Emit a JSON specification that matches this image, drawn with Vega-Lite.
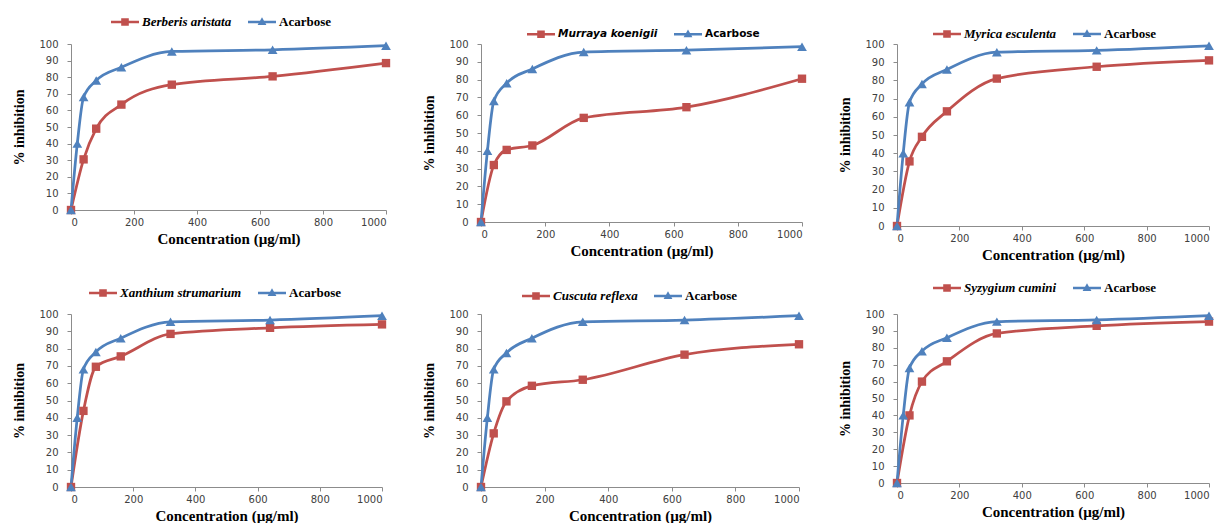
{
  "$schema": "https://vega.github.io/schema/vega-lite/v6.json",
  "background": "white",
  "padding": {"left": 12, "top": 12, "right": 0, "bottom": 0},
  "datasets": {
    "p1": [
      {"series": "Berberis aristata", "conc": 0, "inhibition": 0},
      {"series": "Berberis aristata", "conc": 40, "inhibition": 30.5},
      {"series": "Berberis aristata", "conc": 80, "inhibition": 49},
      {"series": "Berberis aristata", "conc": 160, "inhibition": 63.5},
      {"series": "Berberis aristata", "conc": 320, "inhibition": 75.5},
      {"series": "Berberis aristata", "conc": 640, "inhibition": 80.5},
      {"series": "Berberis aristata", "conc": 1000, "inhibition": 88.5},
      {"series": "Acarbose", "conc": 0, "inhibition": 0},
      {"series": "Acarbose", "conc": 20, "inhibition": 40},
      {"series": "Acarbose", "conc": 40, "inhibition": 68},
      {"series": "Acarbose", "conc": 80, "inhibition": 78},
      {"series": "Acarbose", "conc": 160, "inhibition": 86},
      {"series": "Acarbose", "conc": 320, "inhibition": 95.5},
      {"series": "Acarbose", "conc": 640, "inhibition": 96.5},
      {"series": "Acarbose", "conc": 1000, "inhibition": 99}
    ],
    "p2": [
      {"series": "Murraya koenigii", "conc": 0, "inhibition": 0},
      {"series": "Murraya koenigii", "conc": 40, "inhibition": 32},
      {"series": "Murraya koenigii", "conc": 80, "inhibition": 40.5},
      {"series": "Murraya koenigii", "conc": 160, "inhibition": 43},
      {"series": "Murraya koenigii", "conc": 320, "inhibition": 58.5},
      {"series": "Murraya koenigii", "conc": 640, "inhibition": 64.5},
      {"series": "Murraya koenigii", "conc": 1000, "inhibition": 80.5},
      {"series": "Acarbose", "conc": 0, "inhibition": 0},
      {"series": "Acarbose", "conc": 20, "inhibition": 40},
      {"series": "Acarbose", "conc": 40, "inhibition": 68},
      {"series": "Acarbose", "conc": 80, "inhibition": 78},
      {"series": "Acarbose", "conc": 160, "inhibition": 86},
      {"series": "Acarbose", "conc": 320, "inhibition": 95.5},
      {"series": "Acarbose", "conc": 640, "inhibition": 96.5},
      {"series": "Acarbose", "conc": 1000, "inhibition": 98.5}
    ],
    "p3": [
      {"series": "Myrica esculenta", "conc": 0, "inhibition": 0},
      {"series": "Myrica esculenta", "conc": 40, "inhibition": 35.5},
      {"series": "Myrica esculenta", "conc": 80, "inhibition": 49},
      {"series": "Myrica esculenta", "conc": 160, "inhibition": 63},
      {"series": "Myrica esculenta", "conc": 320, "inhibition": 81},
      {"series": "Myrica esculenta", "conc": 640, "inhibition": 87.5},
      {"series": "Myrica esculenta", "conc": 1000, "inhibition": 91},
      {"series": "Acarbose", "conc": 0, "inhibition": 0},
      {"series": "Acarbose", "conc": 20, "inhibition": 40},
      {"series": "Acarbose", "conc": 40, "inhibition": 68},
      {"series": "Acarbose", "conc": 80, "inhibition": 78},
      {"series": "Acarbose", "conc": 160, "inhibition": 86},
      {"series": "Acarbose", "conc": 320, "inhibition": 95.5},
      {"series": "Acarbose", "conc": 640, "inhibition": 96.5},
      {"series": "Acarbose", "conc": 1000, "inhibition": 99}
    ],
    "p4": [
      {"series": "Xanthium strumarium", "conc": 0, "inhibition": 0},
      {"series": "Xanthium strumarium", "conc": 40, "inhibition": 44},
      {"series": "Xanthium strumarium", "conc": 80, "inhibition": 69.5},
      {"series": "Xanthium strumarium", "conc": 160, "inhibition": 75.5},
      {"series": "Xanthium strumarium", "conc": 320, "inhibition": 88.5},
      {"series": "Xanthium strumarium", "conc": 640, "inhibition": 92},
      {"series": "Xanthium strumarium", "conc": 1000, "inhibition": 94},
      {"series": "Acarbose", "conc": 0, "inhibition": 0},
      {"series": "Acarbose", "conc": 20, "inhibition": 40},
      {"series": "Acarbose", "conc": 40, "inhibition": 68},
      {"series": "Acarbose", "conc": 80, "inhibition": 78},
      {"series": "Acarbose", "conc": 160, "inhibition": 86},
      {"series": "Acarbose", "conc": 320, "inhibition": 95.5},
      {"series": "Acarbose", "conc": 640, "inhibition": 96.5},
      {"series": "Acarbose", "conc": 1000, "inhibition": 99}
    ],
    "p5": [
      {"series": "Cuscuta reflexa", "conc": 0, "inhibition": 0},
      {"series": "Cuscuta reflexa", "conc": 40, "inhibition": 31},
      {"series": "Cuscuta reflexa", "conc": 80, "inhibition": 49.5},
      {"series": "Cuscuta reflexa", "conc": 160, "inhibition": 58.5},
      {"series": "Cuscuta reflexa", "conc": 320, "inhibition": 62},
      {"series": "Cuscuta reflexa", "conc": 640, "inhibition": 76.5},
      {"series": "Cuscuta reflexa", "conc": 1000, "inhibition": 82.5},
      {"series": "Acarbose", "conc": 0, "inhibition": 0},
      {"series": "Acarbose", "conc": 20, "inhibition": 40},
      {"series": "Acarbose", "conc": 40, "inhibition": 68},
      {"series": "Acarbose", "conc": 80, "inhibition": 77.5},
      {"series": "Acarbose", "conc": 160, "inhibition": 86},
      {"series": "Acarbose", "conc": 320, "inhibition": 95.5},
      {"series": "Acarbose", "conc": 640, "inhibition": 96.5},
      {"series": "Acarbose", "conc": 1000, "inhibition": 99}
    ],
    "p6": [
      {"series": "Syzygium cumini", "conc": 0, "inhibition": 0},
      {"series": "Syzygium cumini", "conc": 40, "inhibition": 40},
      {"series": "Syzygium cumini", "conc": 80, "inhibition": 60},
      {"series": "Syzygium cumini", "conc": 160, "inhibition": 72},
      {"series": "Syzygium cumini", "conc": 320, "inhibition": 88.5},
      {"series": "Syzygium cumini", "conc": 640, "inhibition": 93},
      {"series": "Syzygium cumini", "conc": 1000, "inhibition": 95.5},
      {"series": "Acarbose", "conc": 0, "inhibition": 0},
      {"series": "Acarbose", "conc": 20, "inhibition": 40},
      {"series": "Acarbose", "conc": 40, "inhibition": 68},
      {"series": "Acarbose", "conc": 80, "inhibition": 78},
      {"series": "Acarbose", "conc": 160, "inhibition": 86},
      {"series": "Acarbose", "conc": 320, "inhibition": 95.5},
      {"series": "Acarbose", "conc": 640, "inhibition": 96.5},
      {"series": "Acarbose", "conc": 1000, "inhibition": 99}
    ]
  },
  "columns": 3,
  "align": "none",
  "bounds": "flush",
  "spacing": {"row": 88, "column": 95},
  "resolve": {
    "scale": {"color": "independent", "x": "independent", "y": "independent"},
    "legend": {"color": "independent"},
    "axis": {"x": "independent", "y": "independent"}
  },
  "concat": [
    {
      "width": 315, "height": 166,
      "data": {"name": "p1"},
      "encoding": {
        "x": {"field": "conc", "type": "quantitative", "scale": {"domain": [0, 1000], "nice": false}, "axis": {"values": [0, 200, 400, 600, 800, 1000], "format": "d", "title": "Concentration (µg/ml)"}},
        "y": {"field": "inhibition", "type": "quantitative", "scale": {"domain": [0, 100], "nice": false}, "axis": {"values": [0, 10, 20, 30, 40, 50, 60, 70, 80, 90, 100], "title": "% inhibition"}},
        "color": {"field": "series", "type": "nominal", "scale": {"domain": ["Berberis aristata", "Acarbose"], "range": ["#C0504D", "#4F81BD"]},
          "legend": {"title": null, "orient": "none", "direction": "horizontal", "legendX": 44, "legendY": -32,
            "encode": {
              "symbols": {"update": {
                "shape": {"signal": "datum.value === 'Acarbose' ? 'M-1.4,-0.13L1.4,-0.13L1.4,0.13L-1.4,0.13Z M0,-0.48L0.44,0.3L-0.44,0.3Z' : 'M-1.4,-0.13L1.4,-0.13L1.4,0.13L-1.4,0.13Z M-0.38,-0.38L0.38,-0.38L0.38,0.38L-0.38,0.38Z'"},
                "size": {"value": 400},
                "fill": {"signal": "datum.value === 'Acarbose' ? '#4F81BD' : '#C0504D'"},
                "fillOpacity": {"value": 1},
                "strokeWidth": {"value": 0}, "opacity": {"value": 1}}},
              "labels": {"update": {"fontStyle": {"signal": "datum.value === 'Acarbose' ? 'normal' : 'italic'"}}}
            }}}
      },
      "layer": [
        {"mark": {"type": "line", "interpolate": "monotone", "strokeWidth": 2.75}},
        {"transform": [{"filter": "datum.series !== 'Acarbose'"}], "mark": {"type": "point", "filled": true, "opacity": 1, "shape": "square", "size": 70}},
        {"transform": [{"filter": "datum.series === 'Acarbose'"}], "mark": {"type": "point", "filled": true, "opacity": 1, "shape": "triangle-up", "size": 95}}
      ]
    },
    {
      "width": 321, "height": 178,
      "data": {"name": "p2"},
      "encoding": {
        "x": {"field": "conc", "type": "quantitative", "scale": {"domain": [0, 1000], "nice": false}, "axis": {"values": [0, 200, 400, 600, 800, 1000], "format": "d", "title": "Concentration (µg/ml)"}},
        "y": {"field": "inhibition", "type": "quantitative", "scale": {"domain": [0, 100], "nice": false}, "axis": {"values": [0, 10, 20, 30, 40, 50, 60, 70, 80, 90, 100], "title": "% inhibition"}},
        "color": {"field": "series", "type": "nominal", "scale": {"domain": ["Murraya koenigii", "Acarbose"], "range": ["#C0504D", "#4F81BD"]},
          "legend": {"title": null, "orient": "none", "direction": "horizontal", "legendX": 50, "legendY": -20, "labelFont": "DejaVu Sans", "labelFontSize": 10.5,
            "encode": {
              "symbols": {"update": {
                "shape": {"signal": "datum.value === 'Acarbose' ? 'M-1.4,-0.13L1.4,-0.13L1.4,0.13L-1.4,0.13Z M0,-0.48L0.44,0.3L-0.44,0.3Z' : 'M-1.4,-0.13L1.4,-0.13L1.4,0.13L-1.4,0.13Z M-0.38,-0.38L0.38,-0.38L0.38,0.38L-0.38,0.38Z'"},
                "size": {"value": 400},
                "fill": {"signal": "datum.value === 'Acarbose' ? '#4F81BD' : '#C0504D'"},
                "fillOpacity": {"value": 1},
                "strokeWidth": {"value": 0}, "opacity": {"value": 1}}},
              "labels": {"update": {"fontStyle": {"signal": "datum.value === 'Acarbose' ? 'normal' : 'italic'"}}}
            }}}
      },
      "layer": [
        {"mark": {"type": "line", "interpolate": "monotone", "strokeWidth": 2.75}},
        {"transform": [{"filter": "datum.series !== 'Acarbose'"}], "mark": {"type": "point", "filled": true, "opacity": 1, "shape": "square", "size": 70}},
        {"transform": [{"filter": "datum.series === 'Acarbose'"}], "mark": {"type": "point", "filled": true, "opacity": 1, "shape": "triangle-up", "size": 95}}
      ]
    },
    {
      "width": 312, "height": 182,
      "data": {"name": "p3"},
      "encoding": {
        "x": {"field": "conc", "type": "quantitative", "scale": {"domain": [0, 1000], "nice": false}, "axis": {"values": [0, 200, 400, 600, 800, 1000], "format": "d", "title": "Concentration (µg/ml)"}},
        "y": {"field": "inhibition", "type": "quantitative", "scale": {"domain": [0, 100], "nice": false}, "axis": {"values": [0, 10, 20, 30, 40, 50, 60, 70, 80, 90, 100], "title": "% inhibition"}},
        "color": {"field": "series", "type": "nominal", "scale": {"domain": ["Myrica esculenta", "Acarbose"], "range": ["#C0504D", "#4F81BD"]},
          "legend": {"title": null, "orient": "none", "direction": "horizontal", "legendX": 40, "legendY": -20,
            "encode": {
              "symbols": {"update": {
                "shape": {"signal": "datum.value === 'Acarbose' ? 'M-1.4,-0.13L1.4,-0.13L1.4,0.13L-1.4,0.13Z M0,-0.48L0.44,0.3L-0.44,0.3Z' : 'M-1.4,-0.13L1.4,-0.13L1.4,0.13L-1.4,0.13Z M-0.38,-0.38L0.38,-0.38L0.38,0.38L-0.38,0.38Z'"},
                "size": {"value": 400},
                "fill": {"signal": "datum.value === 'Acarbose' ? '#4F81BD' : '#C0504D'"},
                "fillOpacity": {"value": 1},
                "strokeWidth": {"value": 0}, "opacity": {"value": 1}}},
              "labels": {"update": {"fontStyle": {"signal": "datum.value === 'Acarbose' ? 'normal' : 'italic'"}}}
            }}}
      },
      "layer": [
        {"mark": {"type": "line", "interpolate": "monotone", "strokeWidth": 2.75}},
        {"transform": [{"filter": "datum.series !== 'Acarbose'"}], "mark": {"type": "point", "filled": true, "opacity": 1, "shape": "square", "size": 70}},
        {"transform": [{"filter": "datum.series === 'Acarbose'"}], "mark": {"type": "point", "filled": true, "opacity": 1, "shape": "triangle-up", "size": 95}}
      ]
    },
    {
      "width": 311, "height": 173,
      "data": {"name": "p4"},
      "encoding": {
        "x": {"field": "conc", "type": "quantitative", "scale": {"domain": [0, 1000], "nice": false}, "axis": {"values": [0, 200, 400, 600, 800, 1000], "format": "d", "title": "Concentration (µg/ml)"}},
        "y": {"field": "inhibition", "type": "quantitative", "scale": {"domain": [0, 100], "nice": false}, "axis": {"values": [0, 10, 20, 30, 40, 50, 60, 70, 80, 90, 100], "title": "% inhibition"}},
        "color": {"field": "series", "type": "nominal", "scale": {"domain": ["Xanthium strumarium", "Acarbose"], "range": ["#C0504D", "#4F81BD"]},
          "legend": {"title": null, "orient": "none", "direction": "horizontal", "legendX": 22, "legendY": -31,
            "encode": {
              "symbols": {"update": {
                "shape": {"signal": "datum.value === 'Acarbose' ? 'M-1.4,-0.13L1.4,-0.13L1.4,0.13L-1.4,0.13Z M0,-0.48L0.44,0.3L-0.44,0.3Z' : 'M-1.4,-0.13L1.4,-0.13L1.4,0.13L-1.4,0.13Z M-0.38,-0.38L0.38,-0.38L0.38,0.38L-0.38,0.38Z'"},
                "size": {"value": 400},
                "fill": {"signal": "datum.value === 'Acarbose' ? '#4F81BD' : '#C0504D'"},
                "fillOpacity": {"value": 1},
                "strokeWidth": {"value": 0}, "opacity": {"value": 1}}},
              "labels": {"update": {"fontStyle": {"signal": "datum.value === 'Acarbose' ? 'normal' : 'italic'"}}}
            }}}
      },
      "layer": [
        {"mark": {"type": "line", "interpolate": "monotone", "strokeWidth": 2.75}},
        {"transform": [{"filter": "datum.series !== 'Acarbose'"}], "mark": {"type": "point", "filled": true, "opacity": 1, "shape": "square", "size": 70}},
        {"transform": [{"filter": "datum.series === 'Acarbose'"}], "mark": {"type": "point", "filled": true, "opacity": 1, "shape": "triangle-up", "size": 95}}
      ]
    },
    {
      "width": 318, "height": 173,
      "data": {"name": "p5"},
      "encoding": {
        "x": {"field": "conc", "type": "quantitative", "scale": {"domain": [0, 1000], "nice": false}, "axis": {"values": [0, 200, 400, 600, 800, 1000], "format": "d", "title": "Concentration (µg/ml)"}},
        "y": {"field": "inhibition", "type": "quantitative", "scale": {"domain": [0, 100], "nice": false}, "axis": {"values": [0, 10, 20, 30, 40, 50, 60, 70, 80, 90, 100], "title": "% inhibition"}},
        "color": {"field": "series", "type": "nominal", "scale": {"domain": ["Cuscuta reflexa", "Acarbose"], "range": ["#C0504D", "#4F81BD"]},
          "legend": {"title": null, "orient": "none", "direction": "horizontal", "legendX": 45, "legendY": -28,
            "encode": {
              "symbols": {"update": {
                "shape": {"signal": "datum.value === 'Acarbose' ? 'M-1.4,-0.13L1.4,-0.13L1.4,0.13L-1.4,0.13Z M0,-0.48L0.44,0.3L-0.44,0.3Z' : 'M-1.4,-0.13L1.4,-0.13L1.4,0.13L-1.4,0.13Z M-0.38,-0.38L0.38,-0.38L0.38,0.38L-0.38,0.38Z'"},
                "size": {"value": 400},
                "fill": {"signal": "datum.value === 'Acarbose' ? '#4F81BD' : '#C0504D'"},
                "fillOpacity": {"value": 1},
                "strokeWidth": {"value": 0}, "opacity": {"value": 1}}},
              "labels": {"update": {"fontStyle": {"signal": "datum.value === 'Acarbose' ? 'normal' : 'italic'"}}}
            }}}
      },
      "layer": [
        {"mark": {"type": "line", "interpolate": "monotone", "strokeWidth": 2.75}},
        {"transform": [{"filter": "datum.series !== 'Acarbose'"}], "mark": {"type": "point", "filled": true, "opacity": 1, "shape": "square", "size": 70}},
        {"transform": [{"filter": "datum.series === 'Acarbose'"}], "mark": {"type": "point", "filled": true, "opacity": 1, "shape": "triangle-up", "size": 95}}
      ]
    },
    {
      "width": 312, "height": 169,
      "data": {"name": "p6"},
      "encoding": {
        "x": {"field": "conc", "type": "quantitative", "scale": {"domain": [0, 1000], "nice": false}, "axis": {"values": [0, 200, 400, 600, 800, 1000], "format": "d", "title": "Concentration (µg/ml)"}},
        "y": {"field": "inhibition", "type": "quantitative", "scale": {"domain": [0, 100], "nice": false}, "axis": {"values": [0, 10, 20, 30, 40, 50, 60, 70, 80, 90, 100], "title": "% inhibition"}},
        "color": {"field": "series", "type": "nominal", "scale": {"domain": ["Syzygium cumini", "Acarbose"], "range": ["#C0504D", "#4F81BD"]},
          "legend": {"title": null, "orient": "none", "direction": "horizontal", "legendX": 40, "legendY": -36,
            "encode": {
              "symbols": {"update": {
                "shape": {"signal": "datum.value === 'Acarbose' ? 'M-1.4,-0.13L1.4,-0.13L1.4,0.13L-1.4,0.13Z M0,-0.48L0.44,0.3L-0.44,0.3Z' : 'M-1.4,-0.13L1.4,-0.13L1.4,0.13L-1.4,0.13Z M-0.38,-0.38L0.38,-0.38L0.38,0.38L-0.38,0.38Z'"},
                "size": {"value": 400},
                "fill": {"signal": "datum.value === 'Acarbose' ? '#4F81BD' : '#C0504D'"},
                "fillOpacity": {"value": 1},
                "strokeWidth": {"value": 0}, "opacity": {"value": 1}}},
              "labels": {"update": {"fontStyle": {"signal": "datum.value === 'Acarbose' ? 'normal' : 'italic'"}}}
            }}}
      },
      "layer": [
        {"mark": {"type": "line", "interpolate": "monotone", "strokeWidth": 2.75}},
        {"transform": [{"filter": "datum.series !== 'Acarbose'"}], "mark": {"type": "point", "filled": true, "opacity": 1, "shape": "square", "size": 70}},
        {"transform": [{"filter": "datum.series === 'Acarbose'"}], "mark": {"type": "point", "filled": true, "opacity": 1, "shape": "triangle-up", "size": 95}}
      ]
    }
  ],
  "config": {
    "view": {"stroke": null},
    "axis": {
      "grid": false, "domainColor": "#8c8c8c", "tickColor": "#8c8c8c", "tickSize": 4,
      "labelFont": "DejaVu Sans", "labelFontSize": 10, "labelColor": "#404040",
      "titleFont": "Liberation Serif", "titleFontWeight": "bold", "titleColor": "#000000"
    },
    "axisX": {"titleFontSize": 15, "titlePadding": 4, "labelPadding": 3},
    "axisY": {"titleFontSize": 14, "titlePadding": 12, "labelPadding": 9},
    "legend": {
      "symbolSize": 400, "labelOffset": 7, "columnPadding": 16, "padding": 0,
      "labelFont": "Liberation Serif", "labelFontSize": 13, "labelFontWeight": "bold", "labelColor": "#000000"
    }
  }
}
